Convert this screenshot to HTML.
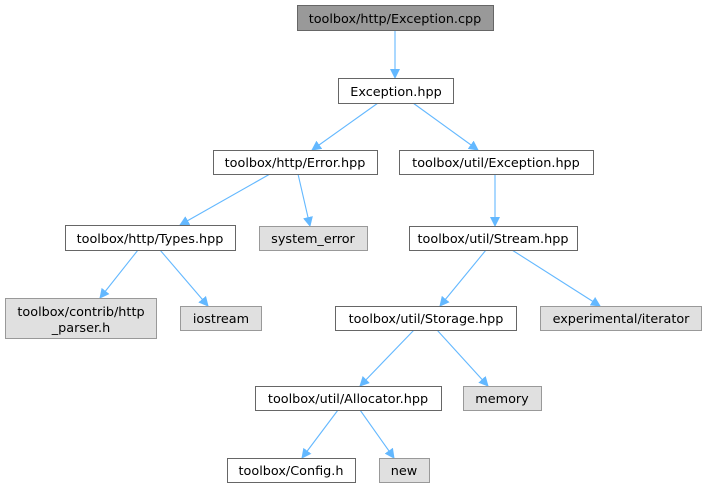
<!DOCTYPE html>
<html><head><meta charset="utf-8"><style>
html,body{margin:0;padding:0;background:#fff;}
svg text{font-family:"DejaVu Sans","Liberation Sans",sans-serif;font-size:12.8px;fill:#000;text-anchor:middle;}
</style></head><body>
<svg width="707" height="491" viewBox="0 0 707 491" xmlns="http://www.w3.org/2000/svg">
<defs><marker id="a" markerWidth="10" markerHeight="10" refX="9" refY="5" orient="auto" markerUnits="userSpaceOnUse"><path d="M0,0 L10,5 L0,10 z" fill="#63b8ff"/></marker></defs>
<g stroke="#63b8ff" stroke-width="1.1" fill="none" marker-end="url(#a)">
<line x1="395" y1="30" x2="395" y2="78"/>
<line x1="378" y1="103" x2="312" y2="150"/>
<line x1="413" y1="103" x2="478" y2="150"/>
<line x1="270" y1="174" x2="180" y2="225"/>
<line x1="298" y1="174" x2="310" y2="226"/>
<line x1="495" y1="174" x2="495" y2="226"/>
<line x1="138" y1="250" x2="100" y2="298"/>
<line x1="160" y1="250" x2="208" y2="306"/>
<line x1="486" y1="250" x2="440" y2="306"/>
<line x1="512" y1="250" x2="600" y2="306"/>
<line x1="414" y1="330" x2="360" y2="386"/>
<line x1="437" y1="330" x2="488" y2="386"/>
<line x1="338" y1="410" x2="302" y2="458"/>
<line x1="360" y1="410" x2="394" y2="458"/>
</g>
<g stroke="#666" stroke-width="1">
<rect x="297.5" y="5.5" width="196" height="25" fill="#999"/>
<rect x="338.5" y="78.5" width="115" height="25" fill="#fff"/>
<rect x="213.5" y="150.5" width="164" height="24" fill="#fff"/>
<rect x="399.5" y="150.5" width="194" height="24" fill="#fff"/>
<rect x="65.5" y="225.5" width="170" height="25" fill="#fff"/>
<rect x="259.5" y="226.5" width="108" height="24" fill="#e0e0e0" stroke="#999"/>
<rect x="409.5" y="226.5" width="168" height="24" fill="#fff"/>
<rect x="5.5" y="298.5" width="151" height="40" fill="#e0e0e0" stroke="#999"/>
<rect x="180.5" y="306.5" width="81" height="24" fill="#e0e0e0" stroke="#999"/>
<rect x="335.5" y="306.5" width="181" height="24" fill="#fff"/>
<rect x="540.5" y="306.5" width="161" height="24" fill="#e0e0e0" stroke="#999"/>
<rect x="255.5" y="386.5" width="186" height="24" fill="#fff"/>
<rect x="463.5" y="386.5" width="78" height="24" fill="#e0e0e0" stroke="#999"/>
<rect x="227.5" y="458.5" width="128" height="24" fill="#fff"/>
<rect x="379.5" y="458.5" width="50" height="24" fill="#e0e0e0" stroke="#999"/>
</g>
<text x="395" y="23">toolbox/http/Exception.cpp</text>
<text x="396" y="96">Exception.hpp</text>
<text x="295" y="167">toolbox/http/Error.hpp</text>
<text x="496" y="167">toolbox/util/Exception.hpp</text>
<text x="150" y="243">toolbox/http/Types.hpp</text>
<text x="313" y="243">system_error</text>
<text x="493" y="243">toolbox/util/Stream.hpp</text>
<text x="81" y="316">toolbox/contrib/http</text>
<text x="81" y="332">_parser.h</text>
<text x="221" y="323">iostream</text>
<text x="426" y="323">toolbox/util/Storage.hpp</text>
<text x="621" y="323">experimental/iterator</text>
<text x="348" y="403">toolbox/util/Allocator.hpp</text>
<text x="502" y="403">memory</text>
<text x="291" y="475">toolbox/Config.h</text>
<text x="404" y="475">new</text>
</svg>
</body></html>
